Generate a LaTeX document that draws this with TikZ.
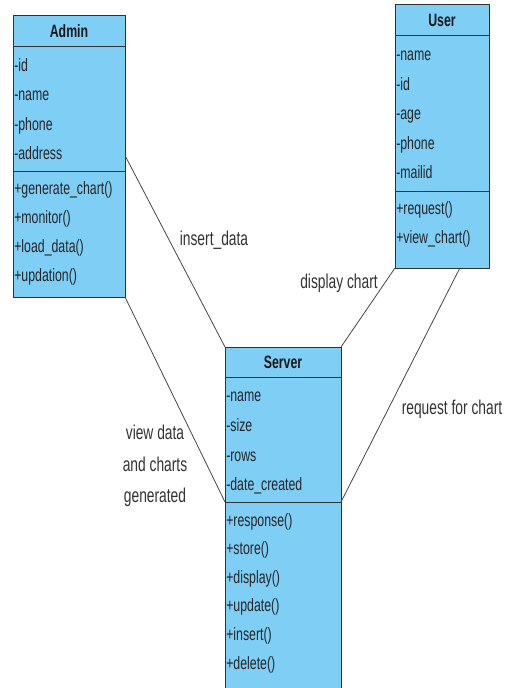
\documentclass[tikz,border=0pt]{standalone}
\usepackage{fontspec}
\newfontfamily\umlfont[FakeStretch=0.69]{Liberation Sans}
\usetikzlibrary{positioning,calc}
\definecolor{classblue}{RGB}{126,206,245}
\definecolor{boxedge}{RGB}{50,50,50}
\definecolor{linkgray}{RGB}{70,70,70}

\tikzset{
  part/.style={draw=boxedge, fill=classblue, line width=0.75pt, outer sep=0pt, inner sep=0pt, anchor=north west},
  head/.style={part, font=\umlfont\fontsize{13.4}{16}\selectfont\bfseries, text=black!90},
  member/.style={anchor=west, inner sep=0pt, text height=9pt, text depth=2.9pt, font=\umlfont\fontsize{13.4}{16}\selectfont, text=black!85},
  link/.style={draw=linkgray, line width=0.6pt},
  tag/.style={font=\umlfont\fontsize{15}{23.5}\selectfont, text=black!80, inner sep=0pt},
}

\begin{document}
\begin{tikzpicture}[x=0.75pt, y=-0.75pt]
  \useasboundingbox (0,0) rectangle (510,688);
  \clip (0,0) rectangle (510,688);

  % Admin
  \node[head, minimum width=84pt, minimum height=23.25pt] (admintitle) at (13,16) {Admin};
  \node[part, minimum width=84pt, minimum height=93pt, below=0pt of admintitle] (adminattr) {};
  \node[part, minimum width=84pt, minimum height=94.5pt, below=0pt of adminattr] (adminops) {};
  \foreach \t [count=\i from 0] in {-id, -name, -phone, -address}
    \node[member] (adm-a\i) at (14, 67+29.5*\i) {\t};
  \foreach \t [count=\i from 0] in {+generate\_chart(), +monitor(), +load\_data(), +updation()}
    \node[member] (adm-o\i) at (14, 190+29.2*\i) {\t};

  % User
  \node[head, minimum width=70.5pt, minimum height=23.25pt] (usertitle) at (395,5) {User};
  \node[part, minimum width=70.5pt, minimum height=116.25pt, below=0pt of usertitle] (userattr) {};
  \node[part, minimum width=70.5pt, minimum height=57.75pt, below=0pt of userattr] (userops) {};
  \foreach \t [count=\i from 0] in {-name, -id, -age, -phone, -mailid}
    \node[member] (usr-a\i) at (396, 56.5+29.6*\i) {\t};
  \foreach \t [count=\i from 0] in {+request(), +view\_chart()}
    \node[member] (usr-o\i) at (396, 210.5+29*\i) {\t};

  % Server
  \node[head, minimum width=87pt, minimum height=22.5pt] (servertitle) at (225,347) {Server};
  \node[part, minimum width=87pt, minimum height=93.75pt, below=0pt of servertitle] (serverattr) {};
  \node[part, minimum width=87pt, minimum height=150pt, below=0pt of serverattr] (serverops) {};
  \foreach \t [count=\i from 0] in {-name, -size, -rows, -date\_created}
    \node[member] (srv-a\i) at (226, 397.5+29.8*\i) {\t};
  \foreach \t [count=\i from 0] in {+response(), +store(), +display(), +update(), +insert(), +delete()}
    \node[member] (srv-o\i) at (226, 522+28.6*\i) {\t};

  % associations
  \draw[link] (adminattr.east |- adm-a3) -- (servertitle.north west);
  \draw[link] (adminops.south east) -- (serverattr.south west);
  \draw[link] (userops.south west) -- (servertitle.north east);
  \draw[link] ($(userops.south west)!0.69!(userops.south east)$) -- (serverattr.south east);

  \node[tag] (lblinsert) at (214,240) {insert\_data};
  \node[tag] (lbldisplay) at (339,283) {display chart};
  \node[tag] (lblrequest) at (452,409) {request for chart};
  \node[tag, align=center] (lblview) at (155,466) {view data\\and charts\\generated};
\end{tikzpicture}
\end{document}
